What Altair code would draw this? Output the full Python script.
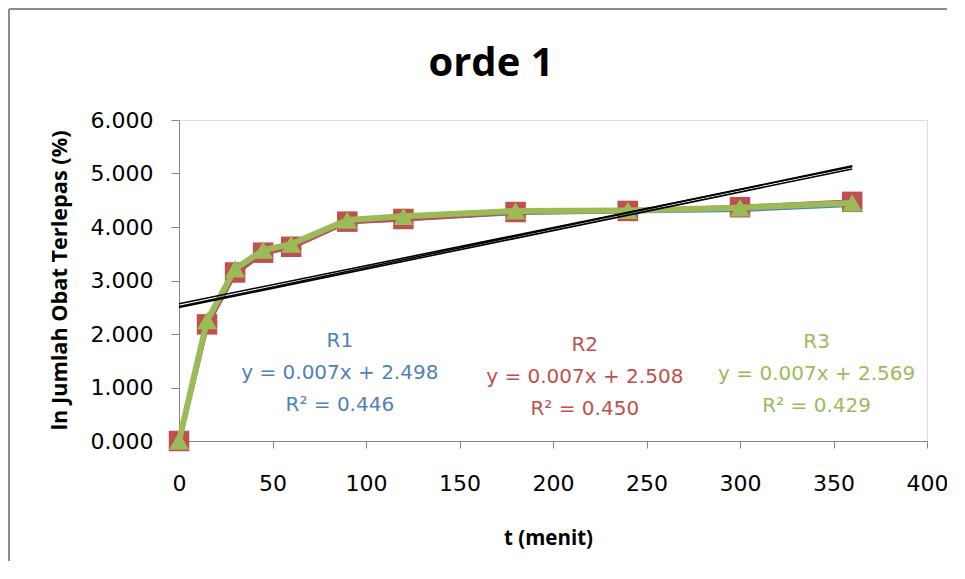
import altair as alt
import pandas as pd

# ---- data ----
t_menit = [0, 15, 30, 45, 60, 90, 120, 180, 240, 300, 360]
r1_vals = [0.000, 2.15, 3.10, 3.50, 3.60, 4.08, 4.13, 4.25, 4.28, 4.31, 4.40]
r2_vals = [0.000, 2.18, 3.15, 3.52, 3.63, 4.10, 4.15, 4.28, 4.30, 4.37, 4.47]
r3_vals = [0.000, 2.25, 3.22, 3.57, 3.68, 4.13, 4.20, 4.30, 4.31, 4.36, 4.45]

series_names = ["R1", "R2", "R3"]
equations = ["y = 0.007x + 2.498", "y = 0.007x + 2.508", "y = 0.007x + 2.569"]
r_squared = ["R\u00b2 = 0.446", "R\u00b2 = 0.450", "R\u00b2 = 0.429"]
label_t = [86, 217, 341]          # annotation block first-line anchor (t units)
label_y = [1.87, 1.79, 1.85]      # annotation block first-line anchor (y units)

x_ticks = [0, 50, 100, 150, 200, 250, 300, 350, 400]
y_ticks = [0, 1, 2, 3, 4, 5, 6]

colors = ["#4F81BD", "#C0504D", "#9BBB59"]
shapes = ["diamond", "square", "triangle-up"]
msizes = [150, 420, 400]
lwidths = [3, 5, 6]

rows = []
for name, vals in zip(series_names, [r1_vals, r2_vals, r3_vals]):
    for t, v in zip(t_menit, vals):
        rows.append({"series": name, "t": t, "y": v})
df = pd.DataFrame(rows)

ann = pd.DataFrame({
    "series": series_names,
    "t": label_t,
    "y": label_y,
    "text": [f"{n}\n{e}\n{r}" for n, e, r in zip(series_names, equations, r_squared)],
})

LABEL_FONT = "DejaVu Sans"
TITLE_FONT = "Open Sans"

x_enc = alt.X(
    "t:Q",
    scale=alt.Scale(domain=[0, 400], nice=False, zero=False),
    axis=alt.Axis(
        values=x_ticks, title="t (menit)", grid=False, labelFlush=False, labelOverlap=False,
        labelFont=LABEL_FONT, labelFontSize=22, labelColor="#000000",
        labelPadding=25, tickSize=7, tickColor="#868686", domainColor="#868686",
        titleFont=TITLE_FONT, titleFontSize=20.5, titleFontWeight="bold",
        titleColor="#000000", titleBaseline="alphabetic", titleY=103, titleX=369,
    ),
)
y_enc = alt.Y(
    "y:Q",
    scale=alt.Scale(domain=[0, 6], nice=False),
    axis=alt.Axis(
        values=y_ticks, format=".3f", title="ln Jumlah Obat Terlepas (%)", grid=False,
        labelFlush=False, labelOverlap=False,
        labelFont=LABEL_FONT, labelFontSize=22, labelColor="#000000",
        labelPadding=18, tickSize=8, tickColor="#868686", domainColor="#868686",
        titleFont=TITLE_FONT, titleFontSize=21.7, titleFontWeight="bold",
        titleColor="#000000", titleBaseline="alphabetic", titleX=-113, titleY=160,
        titleAngle=270,
    ),
)

base = alt.Chart(df)
layers = []
for i, name in enumerate(series_names):
    sub = base.transform_filter(alt.datum.series == name)
    layers.append(
        sub.mark_line(color=colors[i], strokeWidth=lwidths[i]).encode(x=x_enc, y=y_enc)
    )
    layers.append(
        sub.mark_point(shape=shapes[i], size=msizes[i], filled=True,
                       color=colors[i], opacity=1).encode(x="t:Q", y="y:Q")
    )

trend = base.transform_regression(
    "t", "y", groupby=["series"], extent=[0, 360]
).mark_line(color="#000000", strokeWidth=1.6).encode(
    x="t:Q", y="y:Q", detail="series:N"
)

text = alt.Chart(ann).mark_text(
    font=LABEL_FONT, fontSize=20, lineBreak="\n", lineHeight=32,
    align="center", baseline="middle",
).encode(
    x="t:Q", y="y:Q", text="text:N",
    color=alt.Color("series:N", scale=alt.Scale(domain=series_names, range=colors), legend=None),
)

one = pd.DataFrame({"k": [0]})
border_left = alt.Chart(one).mark_rule(color="#8C8C8C", strokeWidth=2).encode(
    x=alt.value(-170), y=alt.value(-111), y2=alt.value(460)
)
border_top = alt.Chart(one).mark_rule(color="#8C8C8C", strokeWidth=2).encode(
    x=alt.value(-170), x2=alt.value(900), y=alt.value(-111)
)

chart = alt.layer(*layers, trend, text, border_left, border_top).properties(
    width=748,
    height=321,
    padding={"left": 171, "top": 112, "right": 20, "bottom": 120},
    autosize=alt.AutoSizeParams(type="none"),
    title=alt.TitleParams(
        "orde 1", font=TITLE_FONT, fontSize=40, fontWeight="bold",
        color="#000000", anchor="middle", dx=-62, offset=-108, baseline="alphabetic",
    ),
).configure_view(stroke=None).configure(background="#ffffff")

chart.save("out.html", embed_options={"renderer": "svg", "actions": False})
